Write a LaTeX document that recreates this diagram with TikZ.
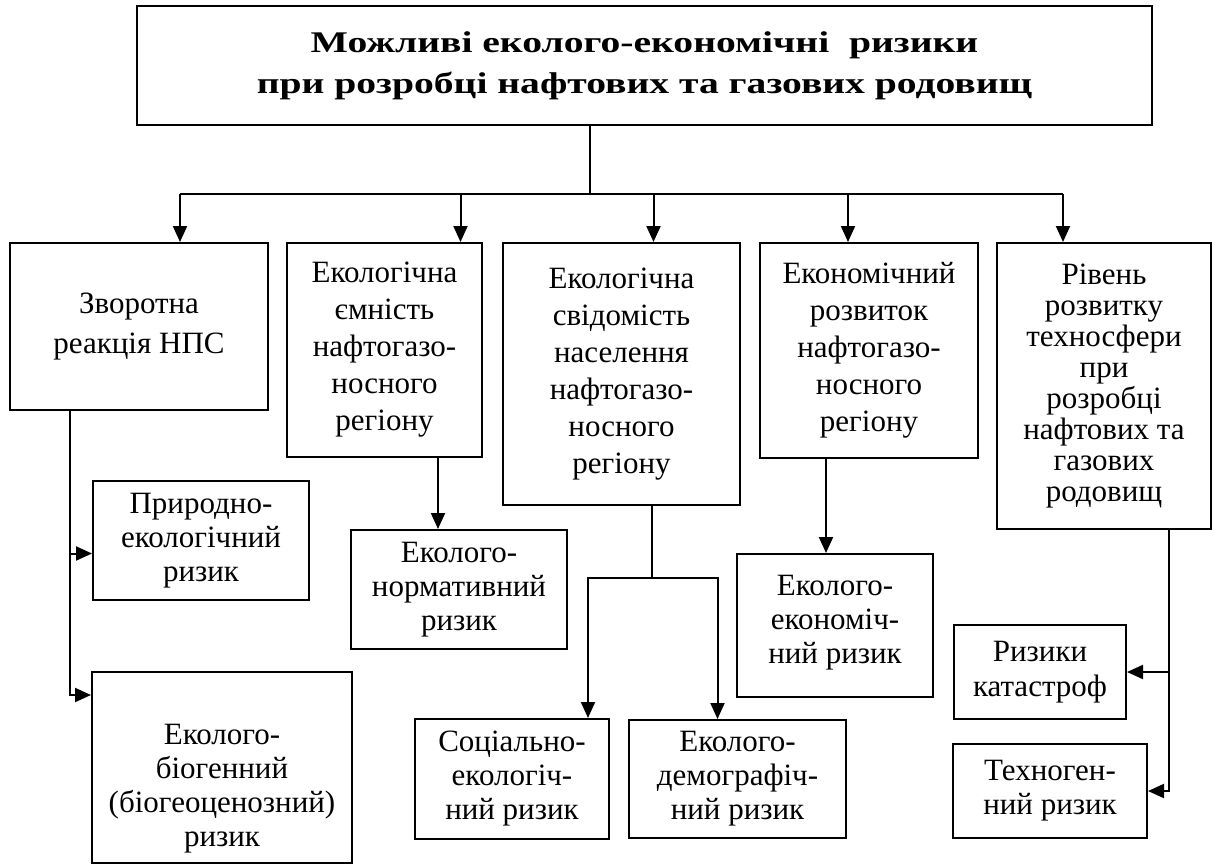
\documentclass[tikz,border=0pt]{standalone}
\usepackage{fontspec}
\setmainfont{Liberation Serif}
\newfontfamily\titlefont[FakeStretch=1.32]{Liberation Serif}
\usetikzlibrary{arrows.meta, calc}
\tikzstyle{box} = [rectangle, draw=black, line width=2pt, align=center, inner sep=0pt, font=\fontsize{31}{34}\selectfont]
\tikzstyle{line} = [line width=2pt]
\tikzstyle{arrow} = [line width=2pt, -{Triangle[length=16pt,width=14pt]}]

\begin{document}
\begin{tikzpicture}[x=1pt, y=-1pt]
    \useasboundingbox (0,0) rectangle (1213,865);
    % Nodes
    \node (top) [box, minimum width=1015pt, minimum height=119pt, font=\titlefont\fontsize{30}{41}\selectfont\bfseries] at (644.5,65.5) {Можливі еколого-економічні\ \ ризики\\при розробці нафтових та газових родовищ};

    \node (b1) [box, minimum width=258pt, minimum height=167pt, font=\fontsize{31}{40}\selectfont] at (139,326.5) {Зворотна\\реакція НПС};
    \node (b2) [box, minimum width=195pt, minimum height=214pt, font=\fontsize{31}{37}\selectfont] at (384.5,350) {Екологічна\\ємність\\нафтогазо-\\носного\\регіону};
    \node (b3) [box, minimum width=237pt, minimum height=262pt, font=\fontsize{31}{37}\selectfont] at (621.5,374) {Екологічна\\свідомість\\населення\\нафтогазо-\\носного\\регіону};
    \node (b4) [box, minimum width=218pt, minimum height=215pt, font=\fontsize{31}{37}\selectfont] at (869,350.5) {Економічний\\розвиток\\нафтогазо-\\носного\\регіону};
    \node (b5) [box, minimum width=214pt, minimum height=286pt, font=\fontsize{31}{31}\selectfont] at (1104,386) {Рівень\\розвитку\\техносфери\\при\\розробці\\нафтових та\\газових\\родовищ};

    \node (p1) [box, minimum width=216pt, minimum height=119pt] at (201,540.5) {Природно-\\екологічний\\ризик};
    \node (p2) [box, minimum width=260pt, minimum height=191pt] at (222,767.5) {\rule{0pt}{62pt}Еколого-\\біогенний\\(біогеоценозний)\\ризик};
    \node (n) [box, minimum width=216pt, minimum height=119pt] at (459,589.5) {Еколого-\\нормативний\\ризик};
    \node (s1) [box, minimum width=194pt, minimum height=120pt] at (512,779) {Соціально-\\екологіч-\\ний ризик};
    \node (s2) [box, minimum width=217pt, minimum height=118pt] at (737.5,779) {Еколого-\\демографіч-\\ний ризик};
    \node (e) [box, minimum width=196pt, minimum height=143pt] at (835,625.5) {Еколого-\\економіч-\\ний ризик\rule[-12pt]{0pt}{12pt}};
    \node (k) [box, minimum width=172pt, minimum height=94pt, font=\fontsize{31}{35}\selectfont] at (1040,672) {Ризики\\катастроф};
    \node (t) [box, minimum width=194pt, minimum height=94pt] at (1050,791) {Техноген-\\ний ризик};

    % Joints
    \coordinate (bus) at (590,194);
    \coordinate (j1) at ([xshift=61pt]b1.south west);
    \coordinate (a1) at ([yshift=-13pt]p1.west);
    \coordinate (j3) at (652,578);

    % Arrows
    \draw [line] (top.south -| bus) -- (bus);
    \draw [line] ([xshift=41pt]b1.north |- bus) -- ([xshift=-41pt]b5.north |- bus);
    \foreach \b/\dx in {b1/41, b2/76, b3/32, b4/-21, b5/-41}
        \draw [arrow] ([xshift=\dx pt]\b.north |- bus) -- ([xshift=\dx pt]\b.north);

    \draw [arrow] (j1) |- ([yshift=-24pt]p2.north west);
    \draw [arrow] (j1 |- a1) -- (a1);

    \draw [arrow] ([xshift=-21pt]n.north |- b2.south) -- ([xshift=-21pt]n.north);

    \draw [line] (b3.south -| j3) -- (j3);
    \draw [arrow] (j3) -| ([xshift=76pt]s1.north);
    \draw [arrow] (j3) -| ([xshift=-20pt]s2.north);

    \draw [arrow] ([xshift=-9pt]e.north |- b4.south) -- ([xshift=-9pt]e.north);

    \draw [arrow] ([xshift=65pt]b5.south) |- (t.east);
    \draw [arrow] ([xshift=65pt]b5.south |- k.east) -- (k.east);
\end{tikzpicture}
\end{document}
